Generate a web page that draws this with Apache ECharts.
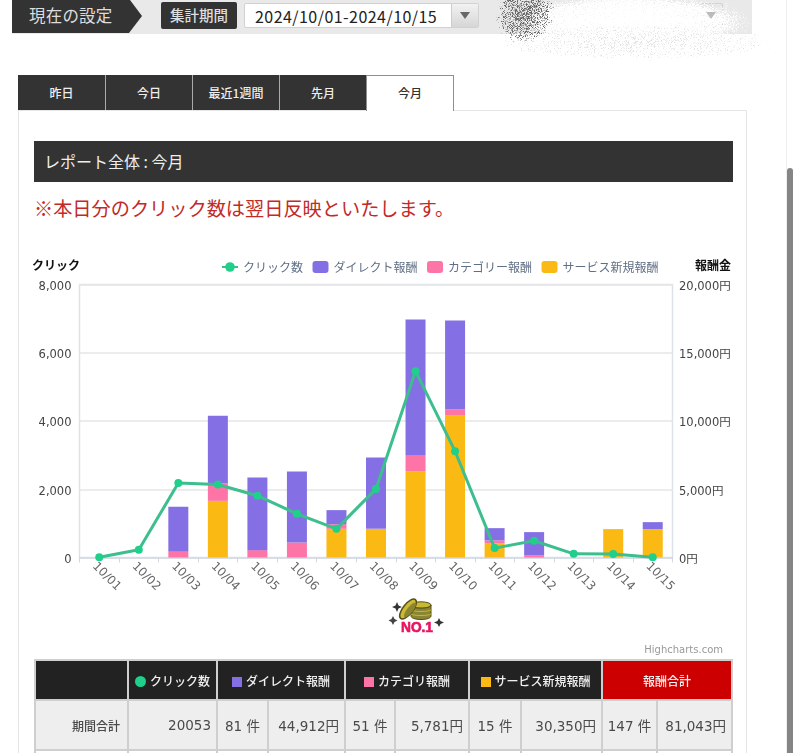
<!DOCTYPE html>
<html lang="ja">
<head>
<meta charset="utf-8">
<title>レポート全体</title>
<script src="https://cdn.jsdelivr.net/npm/echarts@6/dist/echarts.min.js"></script>
<style>
  html, body { margin: 0; padding: 0; width: 800px; height: 753px; overflow: hidden; background: #fff; }
  body { font-family: "Noto Sans CJK JP", "DejaVu Sans", sans-serif; position: relative; }
  .abs { position: absolute; box-sizing: border-box; }
  #bar { left: 12px; top: 0; width: 740px; height: 34px; background: #e9e9e9; }
  #setting { left: 12px; top: 0; width: 130px; height: 33px; background: #333; color: #ddd; font-size: 16.5px; line-height: 31px; padding-left: 17px; letter-spacing: .2px; clip-path: polygon(0 0, 118px 0, 130px 16px, 117px 33px, 0 33px); }
  #period { left: 161px; top: 2px; width: 76px; height: 27px; background: #333; color: #ddd; border-radius: 2px; font-size: 14.500px; font-weight: 500; line-height: 26px; text-align: center; }
  .select { top: 3px; height: 25px; background: #fff; border: 1px solid #d2d2d2; border-radius: 2px; }
  #dates { left: 244px; width: 235px; font-size: 16px; letter-spacing: .45px; line-height: 24px; padding-left: 10px; color: #222; }
  .caret { right: 0; top: 0; width: 27px; height: 23px; background: linear-gradient(#f2f2f2, #d6d6d6); border-left: 1px solid #ccc; }
  .caret::after { content: ""; position: absolute; left: 8px; top: 8px; border: 5px solid transparent; border-top: 7px solid #666; border-bottom: 0; }
  #dates2 { left: 699px; width: 24px; background: #e6e6e6; }
  #caret2 { left: 706px; top: 12px; border: 5px solid transparent; border-top: 7px solid #bbb; border-bottom: 0; }
  .tab { top: 75px; height: 35px; background: #333; color: #eee; font-size: 12px; font-weight: 500; line-height: 35px; text-align: center; border-right: 1px solid #aaa; }
  .tab.on { background: #fff; color: #333; border: 1px solid #8f8f8f; border-bottom: 0; line-height: 34px; }
  #panel { left: 18px; top: 110px; width: 729px; height: 660px; border: 1px solid #e6e6e6; }
  #title { left: 34px; top: 141px; width: 699px; height: 41px; background: #333; color: #eee; font-size: 16px; line-height: 41px; padding-left: 10px; }
  #note { left: 34px; top: 194px; font-size: 19.2px; line-height: 28px; color: #c22a28; white-space: nowrap; }
  #scroll { left: 787px; top: 168px; width: 6px; height: 600px; background: #858585; border-radius: 3px; }
  #rail { left: 786px; top: 0; width: 1px; height: 753px; background: #eee; }
  #chart { left: 0; top: 0; width: 800px; height: 753px; }
  #grain, #badge { pointer-events: none; }
  table { position: absolute; left: 34px; top: 659px; width: 697px; table-layout: fixed; border-collapse: collapse; font-family: "DejaVu Sans", "Noto Sans CJK JP", sans-serif; }
  th, td { border: 2px solid #cfcfcf; padding: 0; box-sizing: border-box; white-space: nowrap; }
  th { height: 40px; background: #222; color: #f0f0f0; font: 500 12px "Noto Sans CJK JP", sans-serif; text-align: center; }
  th.total { background: #cc0000; }
  th i { display: inline-block; width: 10px; height: 10px; margin-right: 4px; vertical-align: -1px; }
  th i.dot { width: 11px; height: 11px; border-radius: 50%; }
  td { height: 50px; background: #eeeeee; color: #4a4a4a; font-size: 13.5px; text-align: right; padding-right: 5px; }
  td.count { text-align: center; padding-right: 0; }
  td.label { font: 500 12px "Noto Sans CJK JP", sans-serif; padding-right: 7px; }
  tr.blank td { background: #fff; height: 40px; }
</style>
</head>
<body>
<div class="abs" id="bar"></div>
<div class="abs" id="setting">現在の設定</div>
<div class="abs" id="period">集計期間</div>
<div class="abs select" id="dates">2024/10/01-2024/10/15<div class="abs caret"></div></div>
<div class="abs select" id="dates2"></div>

<!-- eraser-like stipple across the right part of the settings bar -->
<svg class="abs" id="grain" style="left:470px;top:0" width="330" height="90">
  <defs>
    <radialGradient id="soft"><stop offset="0" stop-color="#000" stop-opacity=".95"/><stop offset=".6" stop-color="#000" stop-opacity=".8"/><stop offset="1" stop-color="#000" stop-opacity="0"/></radialGradient>
    <radialGradient id="faint"><stop offset="0" stop-color="#000" stop-opacity=".55"/><stop offset=".7" stop-color="#000" stop-opacity=".45"/><stop offset="1" stop-color="#000" stop-opacity="0"/></radialGradient>
    <radialGradient id="core"><stop offset="0" stop-color="#000" stop-opacity=".62"/><stop offset=".7" stop-color="#000" stop-opacity=".5"/><stop offset="1" stop-color="#000" stop-opacity=".2"/></radialGradient>
    <filter id="fw" x="0" y="0" width="1" height="1" color-interpolation-filters="sRGB">
      <feTurbulence type="fractalNoise" baseFrequency="1.1" numOctaves="2" seed="4"/>
      <feColorMatrix type="matrix" values="0 0 0 0 0 0 0 0 0 0 0 0 0 0 0 1 0 0 0 0" result="n"/>
      <feComposite in="SourceAlpha" in2="n" operator="arithmetic" k1="0" k2="1" k3="1" k4="-1" result="s"/>
      <feComponentTransfer in="s" result="m"><feFuncA type="linear" slope="4"/></feComponentTransfer>
      <feFlood flood-color="#fff"/><feComposite in2="m" operator="in"/>
    </filter>
    <filter id="fg" x="0" y="0" width="1" height="1" color-interpolation-filters="sRGB">
      <feTurbulence type="fractalNoise" baseFrequency="1.3" numOctaves="2" seed="9"/>
      <feColorMatrix type="matrix" values="0 0 0 0 0 0 0 0 0 0 0 0 0 0 0 1 0 0 0 0" result="n"/>
      <feComposite in="SourceAlpha" in2="n" operator="arithmetic" k1="0" k2="1" k3="1" k4="-1.05" result="s"/>
      <feComponentTransfer in="s" result="m"><feFuncA type="linear" slope="7"/></feComponentTransfer>
      <feFlood flood-color="#e4e4e4"/><feComposite in2="m" operator="in"/>
    </filter>
    <filter id="fd" x="0" y="0" width="1" height="1" color-interpolation-filters="sRGB">
      <feTurbulence type="fractalNoise" baseFrequency="1.2" numOctaves="2" seed="2"/>
      <feColorMatrix type="matrix" values="0 0 0 0 0 0 0 0 0 0 0 0 0 0 0 1 0 0 0 0" result="n"/>
      <feComposite in="SourceAlpha" in2="n" operator="arithmetic" k1="0" k2="1" k3="1" k4="-1" result="s"/>
      <feComponentTransfer in="s" result="m"><feFuncA type="linear" slope="6"/></feComponentTransfer>
      <feFlood flood-color="#666"/><feComposite in2="m" operator="in"/>
    </filter>
  </defs>
  <g filter="url(#fw)"><ellipse cx="160" cy="22" rx="150" ry="34" fill="url(#soft)"/></g>
  <g filter="url(#fg)"><ellipse cx="165" cy="42" rx="175" ry="22" fill="url(#faint)"/></g>
  <g filter="url(#fd)"><ellipse cx="55" cy="15" rx="32" ry="32" fill="url(#core)"/></g>
</svg>
<div class="abs" id="caret2"></div>

<div class="abs tab" style="left:18px;width:88px">昨日</div>
<div class="abs tab" style="left:106px;width:87px">今日</div>
<div class="abs tab" style="left:193px;width:87px">最近1週間</div>
<div class="abs tab" style="left:280px;width:86px;border-right:0">先月</div>
<div class="abs" id="panel"></div>
<div class="abs tab on" style="left:366px;width:88px;height:36px">今月</div>
<div class="abs" id="title">レポート全体 : 今月</div>
<div class="abs" id="note">※本日分のクリック数は翌日反映といたします。</div>
<div class="abs" id="rail"></div>
<div class="abs" id="scroll"></div>

<div class="abs" id="chart"></div>

<!-- ranking badge under the chart -->
<svg class="abs" id="badge" style="left:387px;top:596px" width="64" height="40" viewBox="0 0 64 40">
  <path d="M10 6 11.500 9.500 15 11 11.500 12.500 10 16 8.500 12.500 5 11 8.500 9.500Z" fill="#333"/>
  <path d="M6 20 7.500 23 10.500 24.500 7.500 26 6 29 4.500 26 1.500 24.500 4.500 23Z" fill="#444"/>
  <path d="M52 22 53.500 25 57 26.500 53.500 28 52 31 50.500 28 47 26.500 50.500 25Z" fill="#333"/>
  <ellipse cx="34" cy="9" rx="10" ry="3.2" fill="#c9b835" stroke="#55511a"/>
  <path d="M24 9v11c0 2 4 3.500 10 3.500s10-1.500 10-3.500V9c0 2-4 3.200-10 3.200S24 11 24 9Z" fill="#8a8530" stroke="#55511a"/>
  <path d="M24 14c3 2 17 2 20 0M24 18c3 2 17 2 20 0" fill="none" stroke="#c2b540"/>
  <ellipse cx="21" cy="13" rx="5" ry="12" transform="rotate(38 21 13)" fill="#cdb935" stroke="#55511a" stroke-width="1.500"/>
  <ellipse cx="23" cy="14" rx="3" ry="9" transform="rotate(38 23 14)" fill="#8a8530"/>
  <text x="14" y="36" font-family="'Liberation Sans', sans-serif" font-size="15" font-weight="900" fill="#e9155f" stroke="#e9155f" stroke-width=".7" textLength="32" lengthAdjust="spacingAndGlyphs">NO.1</text>
</svg>

<table id="totals">
  <colgroup>
    <col style="width:93px"><col style="width:89px">
    <col style="width:51px"><col style="width:77px">
    <col style="width:50px"><col style="width:74px">
    <col style="width:52px"><col style="width:81px">
    <col style="width:55px"><col style="width:75px">
  </colgroup>
  <tr id="head"></tr>
  <tr id="row"></tr>
  <tr class="blank"><td></td><td></td><td></td><td></td><td></td><td></td><td></td><td></td><td></td><td></td></tr>
</table>

<script>
// Daily report: clicks as a line, reward amounts (yen) as stacked columns.
const days = ['10/01', '10/02', '10/03', '10/04', '10/05', '10/06', '10/07', '10/08',
              '10/09', '10/10', '10/11', '10/12', '10/13', '10/14', '10/15'];
const clicks   = [10, 225, 2180, 2140, 1811, 1280, 840, 2010, 5460, 3115, 275, 490, 107, 100, 10];
const direct   = [0, 0, 3300, 4960, 5320, 5200, 1030, 5230, 9940, 6520, 900, 1690, 0, 0, 510];
const category = [0, 0, 415, 1270, 540, 1100, 340, 0, 1200, 440, 200, 170, 0, 0, 0];
const service  = [0, 0, 0, 4150, 0, 0, 2100, 2100, 6300, 10400, 1050, 0, 0, 2080, 2080];

const seriesNames = ['クリック数', 'ダイレクト報酬', 'カテゴリー報酬', 'サービス新規報酬'];
const colors = { clicks: '#20cf8a', clickLine: '#3dbe8e', direct: '#8470e4', category: '#fe74a6', service: '#fbba13' };
const clickTicks = [0, 2000, 4000, 6000, 8000];
const yenTicks = [0, 5000, 10000, 15000, 20000];

// Summary table contents
const tableHead = [
  ['', '', 1], ['クリック数', colors.clicks, 1, 'dot'], ['ダイレクト報酬', colors.direct, 2],
  ['カテゴリ報酬', colors.category, 2], ['サービス新規報酬', colors.service, 2], ['報酬合計', '', 2, 'total']
];
const periodLabel = '期間合計';
const periodClicks = '20053';
const periodPairs = [['81 件', '44,912円'], ['51 件', '5,781円'], ['15 件', '30,350円'], ['147 件', '81,043円']];

document.getElementById('head').innerHTML = tableHead.map(([text, color, span, kind]) => {
  const mark = color ? `<i class="${kind === 'dot' ? 'dot' : ''}" style="background:${color}"></i>` : '';
  return `<th colspan="${span}" class="${kind === 'total' ? 'total' : ''}">${mark}${text}</th>`;
}).join('');
document.getElementById('row').innerHTML =
  `<td class="label">${periodLabel}</td><td>${periodClicks}</td>` +
  periodPairs.map(([n, yen]) => `<td class="count">${n}</td><td>${yen}</td>`).join('');

const chart = echarts.init(document.getElementById('chart'), null, { renderer: 'canvas', width: 800, height: 753 });
const yen = v => v.toLocaleString('en-US') + '円';
const stacked = (name, data, color) => ({
  name, type: 'bar', stack: 'reward', yAxisIndex: 1, data, barWidth: 20,
  itemStyle: { color }, emphasis: { disabled: true }
});

chart.setOption({
  animation: false,
  backgroundColor: 'transparent',
  textStyle: { fontFamily: '"DejaVu Sans", "Noto Sans CJK JP", sans-serif' },
  grid: { left: 79.5, top: 284.5, width: 593, height: 273, show: true, borderColor: '#dde2ea', borderWidth: 1.5, backgroundColor: 'transparent' },
  legend: {
    left: 216, top: 256, itemGap: 9.5, itemWidth: 16, itemHeight: 12,
    data: [
      { name: seriesNames[0] },
      { name: seriesNames[1], icon: 'roundRect' },
      { name: seriesNames[2], icon: 'roundRect' },
      { name: seriesNames[3], icon: 'roundRect' }
    ],
    textStyle: { fontFamily: '"Noto Sans CJK JP", sans-serif', fontSize: 12, color: '#5f6f85' }
  },
  xAxis: {
    type: 'category', data: days,
    axisLine: { lineStyle: { color: '#d3d9e4', width: 1.5 } },
    axisTick: { show: true, length: 5, lineStyle: { color: '#d3d9e4' } },
    axisLabel: { rotate: -45, fontSize: 12, lineHeight: 14, verticalAlign: 'top', color: '#666', margin: 2, interval: 0 }
  },
  yAxis: [
    {
      type: 'value', min: clickTicks[0], max: clickTicks[clickTicks.length - 1], interval: clickTicks[1],
      axisLine: { show: false }, axisTick: { show: false },
      splitLine: { lineStyle: { color: '#e6e6e6', width: 1.5 } },
      axisLabel: { fontSize: 11.5, color: '#444', margin: 8, verticalAlign: 'top', lineHeight: 5, formatter: v => v.toLocaleString('en-US') }
    },
    {
      type: 'value', position: 'right', min: yenTicks[0], max: yenTicks[yenTicks.length - 1], interval: yenTicks[1],
      axisLine: { show: false }, axisTick: { show: false }, splitLine: { show: false },
      axisLabel: { fontSize: 11.5, color: '#444', margin: 6.5, align: 'left', verticalAlign: 'top', lineHeight: 5, formatter: yen }
    }
  ],
  series: [
    stacked(seriesNames[3], service, colors.service),
    stacked(seriesNames[2], category, colors.category),
    stacked(seriesNames[1], direct, colors.direct),
    {
      name: seriesNames[0], type: 'line', yAxisIndex: 0, data: clicks, z: 5,
      symbol: 'circle', symbolSize: 8, showSymbol: true,
      lineStyle: { color: colors.clickLine, width: 3 },
      itemStyle: { color: colors.clicks },
      emphasis: { disabled: true }
    }
  ],
  graphic: [
    { type: 'text', left: 32, top: 259, style: { text: 'クリック', font: '700 12px "Noto Sans CJK JP", sans-serif', fill: '#111' } },
    { type: 'text', left: 695, top: 259, style: { text: '報酬金', font: '700 12px "Noto Sans CJK JP", sans-serif', fill: '#111' } },
    { type: 'text', right: 77, top: 645, style: { text: 'Highcharts.com', font: '10px "DejaVu Sans", sans-serif', fill: '#999' } }
  ]
});
</script>
</body>
</html>
